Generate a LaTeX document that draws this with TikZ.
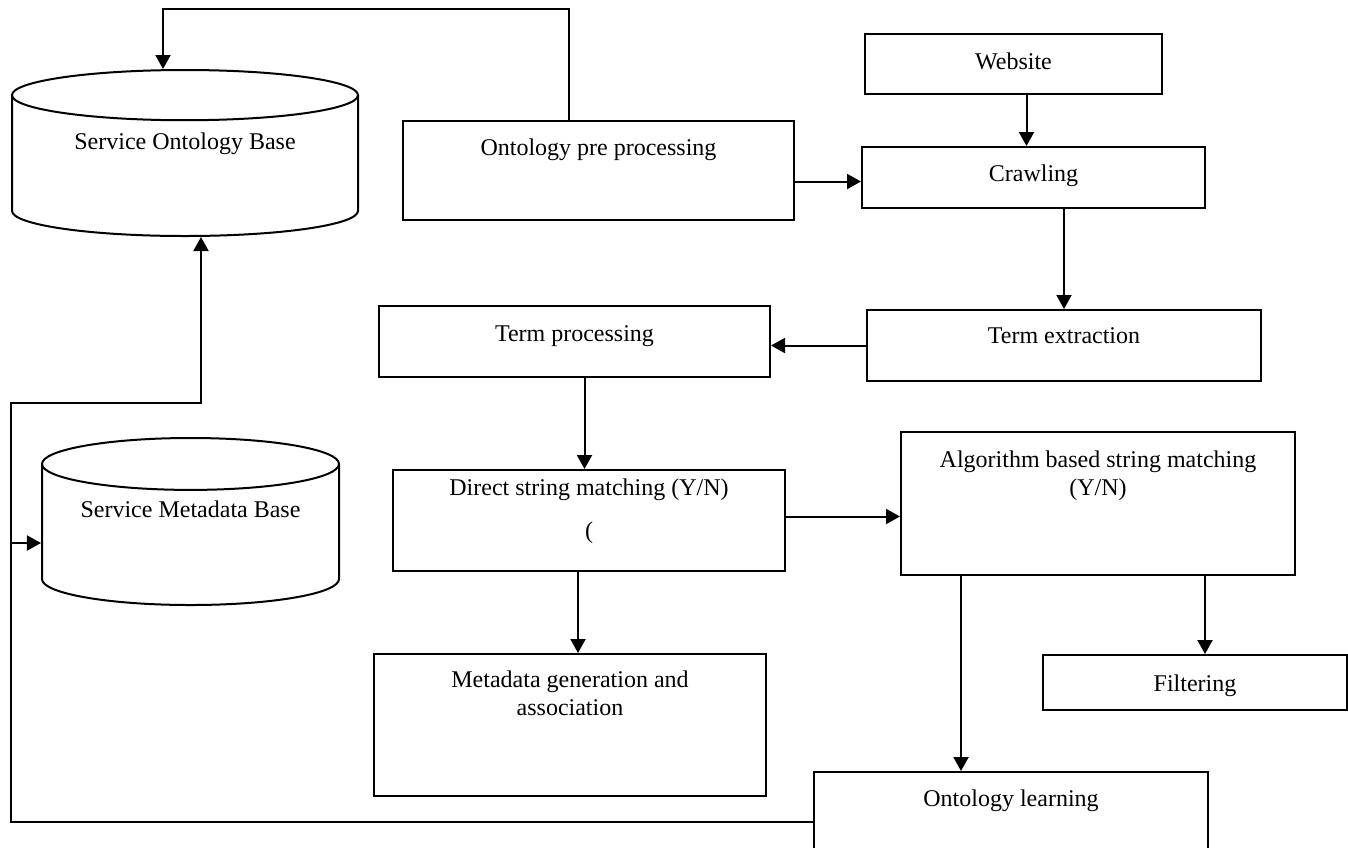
\documentclass[tikz,border=0pt]{standalone}
\usepackage{fontspec}
\setmainfont{Liberation Serif}
\usetikzlibrary{positioning,calc,arrows.meta,shapes.geometric}

\begin{document}
\begin{tikzpicture}[
    x=1pt, y=-1pt,
    font=\fontsize{24}{28}\selectfont,
    box/.style={rectangle, draw, line width=2pt, inner sep=0pt, anchor=north west, align=center},
    db/.style={cylinder, shape border rotate=90, draw, line width=2pt, inner sep=0pt, anchor=shape center, text height=16pt},
    arr/.style={-{Triangle[length=14pt,width=15pt]}, line width=2pt}
]
    \useasboundingbox (0,0) rectangle (1348,847);
    \clip (0,0) rectangle (1348,847);

    % stores
    \node[db, minimum width=346pt, minimum height=166pt, aspect=0.227, text depth=49pt] (sob) at (185,153) {Service Ontology Base};
    \node[db, minimum width=297pt, minimum height=167pt, aspect=0.236, text depth=51pt] (smb) at (190.5,521.5) {Service Metadata Base};

    % processing steps
    \node[box, minimum width=297pt, minimum height=60pt, text height=35pt, text depth=25pt] (web) at (864,33) {Website};
    \node[box, minimum width=343pt, minimum height=61pt, text height=34pt, text depth=27pt] (crawl) at (861,146) {Crawling};
    \node[box, minimum width=391pt, minimum height=99pt, text height=34pt, text depth=65pt] (opp) at (402,120) {Ontology pre processing};
    \node[box, minimum width=394pt, minimum height=71pt, text height=33pt, text depth=38pt] (textr) at (866,309) {Term extraction};
    \node[box, minimum width=391pt, minimum height=71pt, text height=35pt, text depth=36pt] (tproc) at (378,305) {Term processing};
    \node[box, minimum width=392pt, minimum height=101pt, text height=68pt, text depth=33pt] (dsm) at (392,469) {Direct string matching (Y/N)\\[15pt](};
    \node[box, minimum width=394pt, minimum height=143pt, text height=63pt, text depth=80pt] (absm) at (900,431) {Algorithm based string matching\\(Y/N)};
    \node[box, minimum width=392pt, minimum height=142pt, text height=61pt, text depth=81pt] (mga) at (373,653) {Metadata generation and\\association};
    \node[box, minimum width=304pt, minimum height=55pt, text height=36pt, text depth=19pt] (filt) at (1042,654) {Filtering};
    \node[box, minimum width=394pt, minimum height=100pt, text height=34pt, text depth=66pt] (ol) at (813,771) {Ontology learning};

    % main flow
    \coordinate (wout) at ([xshift=13pt]web.south);
    \draw[arr] (wout) -- (wout |- crawl.north);
    \coordinate (crin) at ([yshift=-4pt]crawl.west);
    \draw[arr] (opp.east |- crin) -- (crin);
    \draw[arr] (crawl.south -| textr.north) -- (textr.north);
    \draw[arr] (textr.west) -- (textr.west -| tproc.east);
    \coordinate (tpout) at ([xshift=10pt]tproc.south);
    \draw[arr] (tpout) -- (tpout |- dsm.north);
    \coordinate (dsout) at ([yshift=4pt]dsm.east);
    \draw[arr] (dsout) -- (dsout -| absm.west);
    \coordinate (dsdown) at ([xshift=-11pt]dsm.south);
    \draw[arr] (dsdown) -- (dsdown |- mga.north);
    \coordinate (olin) at ([xshift=-50pt]ol.north);
    \draw[arr] (olin |- absm.south) -- (olin);
    \coordinate (fin) at ([xshift=10pt]filt.north);
    \draw[arr] (fin |- absm.south) -- (fin);

    % back to the stores
    \coordinate (fb) at (11,403);
    \draw[arr] (ol.west) -| (fb) -| ([xshift=16pt]sob.south);
    \coordinate (smbin) at ([yshift=-21.5pt]smb.shape center);
    \draw[arr] (fb |- smbin) -- (smbin -| smb.west);
    \draw[arr] ([xshift=-30pt]opp.north) -- ++(0,-111) -| ([xshift=-22pt]sob.north);
\end{tikzpicture}
\end{document}
